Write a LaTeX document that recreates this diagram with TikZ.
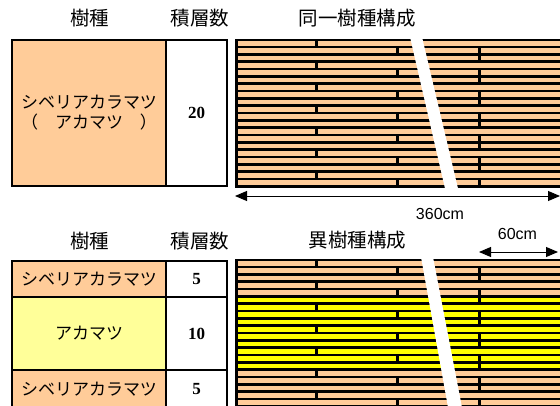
\documentclass[tikz,border=0pt]{standalone}
\usepackage{fontspec}
\newfontfamily\jp{Noto Sans CJK JP}
\newfontfamily\sansf{Liberation Sans}
\newfontfamily\tnr{Liberation Serif}
\usetikzlibrary{arrows.meta}
\definecolor{peach}{HTML}{FFCC99}
\definecolor{lyellow}{HTML}{FFFF99}
\definecolor{yel}{HTML}{FFFF00}
\begin{document}
\begin{tikzpicture}[x=1pt,y=-1pt,
  head/.style={font=\jp\fontsize{19.5}{22}\selectfont, inner sep=0},
  kana/.style={font=\jp\fontsize{17}{20}\selectfont, align=center},
  num/.style={font=\tnr\bfseries\fontsize{17}{20}\selectfont},
  dim/.style={font=\sansf\fontsize{16}{18}\selectfont, inner sep=0},
  cell/.style={draw=black, line width=2.2pt, inner sep=0, outer sep=0},
  dimarrow/.style={line width=0.9pt, {Triangle[length=12pt,width=10pt]}-{Triangle[length=12pt,width=10pt]}}
]
\useasboundingbox (0,0) rectangle (560,405);
\clip (0,0) rectangle (560,405);

% ---------- headings ----------
\node[head] (h1) at (89.5,18.5) {樹種};
\node[head] (h2) at (200,18.5) {積層数};
\node[head] (h3) at (357,18) {同一樹種構成};
\node[head] (h4) at (89.5,241) {樹種};
\node[head] (h5) at (200,241) {積層数};
\node[head] (h6) at (357.5,240) {異樹種構成};

% ---------- top table ----------
\node[cell, fill=peach, minimum width=154pt, minimum height=146pt, kana] (t1) at (89,113)
  {シベリアカラマツ\\（　アカマツ　）};
\node[cell, fill=white, minimum width=61pt, minimum height=146pt, num] (t2) at (196.5,113) {20};

% ---------- bottom table ----------
\node[cell, fill=peach, minimum width=154pt, minimum height=36pt, kana] (b1) at (89,279) {シベリアカラマツ};
\node[cell, fill=white, minimum width=61pt, minimum height=36pt, num] (b2) at (196.5,279) {5};
\node[cell, fill=lyellow, minimum width=154pt, minimum height=73pt, kana] (b3) at (89,333.5) {アカマツ};
\node[cell, fill=white, minimum width=61pt, minimum height=73pt, num] (b4) at (196.5,333.5) {10};
\node[cell, fill=peach, minimum width=154pt, minimum height=38pt, kana] (b5) at (89,389) {シベリアカラマツ};
\node[cell, fill=white, minimum width=61pt, minimum height=38pt, num] (b6) at (196.5,389) {5};

% ---------- top stack ----------
\fill[black] (235,38.5) rectangle (560,187.5);
\foreach \i in {0,...,19} {
  \pgfmathsetmacro\yt{41+\i*7.325}
  \pgfmathsetmacro\yb{\yt+4.825}
  \pgfmathtruncatemacro\m{mod(\i,3)}
  \fill[peach] (237.5,\yt) rectangle (560,\yb);
  \ifcase\m
    \fill[black] (315,\yt) rectangle (317.5,\yb);
  \or
    \fill[black] (396,\yt) rectangle (398.5,\yb);
    \fill[black] (478,\yt) rectangle (480.5,\yb);
  \or
    \fill[black] (478,\yt) rectangle (480.5,\yb);
  \fi
}
\fill[white] (410,37) -- (422,37) -- (458,188.5) -- (445,188.5) -- cycle;

% ---------- bottom stack ----------
\fill[black] (235,258.5) rectangle (560,410);
\foreach \i in {0,...,19} {
  \pgfmathsetmacro\yt{261+\i*7.325}
  \pgfmathsetmacro\yb{\yt+4.825}
  \pgfmathtruncatemacro\m{mod(\i,3)}
  \ifnum\i<5 \def\bc{peach}\else\ifnum\i>14 \def\bc{peach}\else\def\bc{yel}\fi\fi
  \fill[\bc] (237.5,\yt) rectangle (560,\yb);
  \ifcase\m
    \fill[black] (315,\yt) rectangle (317.5,\yb);
  \or
    \fill[black] (396,\yt) rectangle (398.5,\yb);
    \fill[black] (478,\yt) rectangle (480.5,\yb);
  \or
    \fill[black] (478,\yt) rectangle (480.5,\yb);
  \fi
}
\fill[white] (421,257) -- (433,257) -- (462.5,410) -- (448.5,410) -- cycle;

% ---------- dimensions ----------
\coordinate (a1l) at (235,196);
\coordinate (a1r) at (560,196);
\draw[dimarrow] (a1l) -- (a1r);
\node[dim] (d1) at (440,213.5) {360cm};
\coordinate (a2l) at (479,252);
\coordinate (a2r) at (558,252);
\draw[dimarrow] (a2l) -- (a2r);
\node[dim] (d2) at (517.5,234) {60cm};
\end{tikzpicture}
\end{document}
